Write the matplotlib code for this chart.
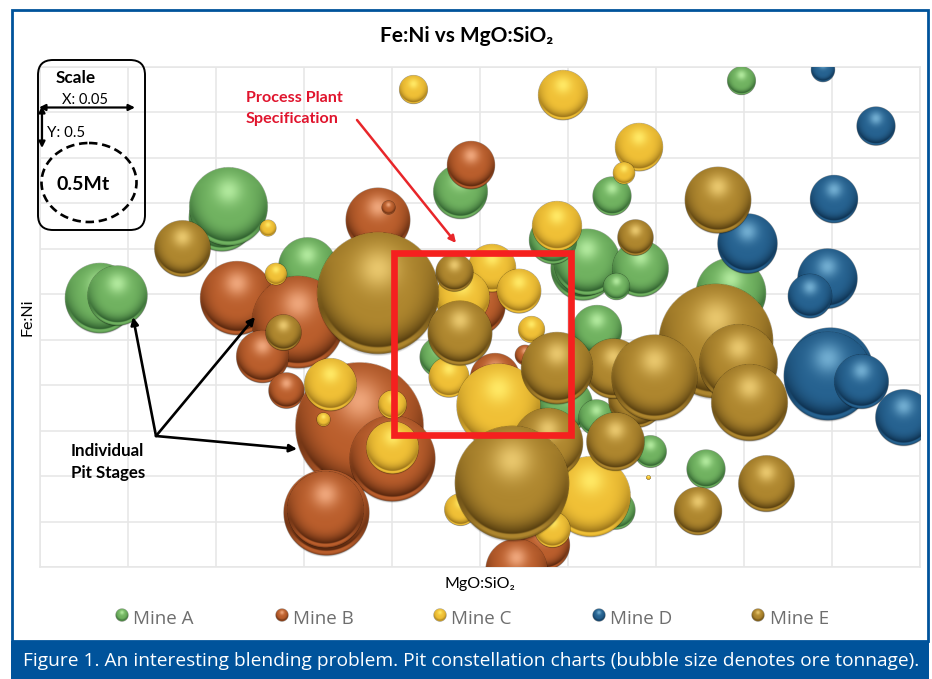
#chart of pit stages, bubble size = ore tonnage
import numpy as np
import matplotlib
matplotlib.use('Agg')
import matplotlib.pyplot as plt
from matplotlib.patches import FancyBboxPatch, Ellipse, Rectangle

#scale of the axes
x_max = 0.5
y_max = 5.5
x_step = 0.05
y_step = 0.5

#mine A
a_x = [.0341, .0437, .1034, .1068, .1517, .2386, .3249, .3983, .3085, .3108, .3408, .3272, .3926, .3164, .2914, .2272, .2983, .3164, .3465, .3784, .3272]
a_y = [2.956, 2.989, 3.835, 3.956, 3.308, 4.132, 4.077, 5.352, 3.286, 3.352, 3.286, 3.077, 3.011, 2.604, 3.593, 2.308, 1.780, 1.648, 1.264, 1.077, 0.626]
a_t = [.331, .243, .294, .411, .227, .197, .098, .053, .277, .294, .212, .046, .331, .169, .156, .108, .197, .088, .069, .098, .098]

#mine B
b_x = [.1119, .1465, .1920, .1982, .2448, .1261, .1403, .1812, .2000, .1625, .1619, .2472, .2585, .2756, .2841, .2869, .2710]
b_y = [2.956, 2.692, 3.813, 3.956, 4.418, 2.308, 1.945, 1.538, 1.198, 0.604, 0.626, 2.879, 2.077, 2.330, 0.220, 0.242, -0.033]
b_t = [.370, .572, .277, .013, .156, .183, .088, 1.108, .500, .500, .390, .243, .169, .027, .169, .169, .260]

#mine C
c_x = [.2119, .2972, .3403, .3318, .1295, .1341, .2938, .2568, .2722, .2790, .2398, .1648, .1608, .2000, .2000, .2324, .2602, .3125, .2909, .2386, .3455]
c_y = [5.253, 5.187, 4.615, 4.330, 3.725, 3.220, 3.747, 3.286, 3.033, 2.604, 2.956, 2.000, 1.626, 1.780, 1.308, 2.088, 1.780, 0.769, 0.407, 0.626, 0.978]
c_t = [.053, .169, .156, .033, .017, .033, .169, .156, .131, .046, .197, .183, .013, .053, .183, .108, .477, .433, .088, .069, .001]

#mine D
d_x = [.4449, .4750, .4511, .4017, .4472, .4375, .4489, .4477, .4665, .4903]
d_y = [5.462, 4.846, 4.044, 3.560, 3.176, 2.978, 2.165, 2.099, 2.033, 1.637]
d_t = [.039, .098, .156, .243, .243, .131, .500, .524, .197, .212]

#mine E
e_x = [.0807, .1920, .1381, .2352, .2386, .3852, .3386, .3841, .3386, .3966, .4028, .3256, .2938, .3489, .3267, .4125, .3739, .2886, .2682]
e_y = [3.505, 3.011, 2.582, 3.242, 2.571, 4.033, 3.626, 2.484, 1.835, 2.231, 1.802, 2.187, 2.187, 2.088, 1.374, 0.912, 0.615, 1.363, 0.923]
e_t = [.212, 1.006, .088, .095, .277, .294, .088, .879, .212, .411, .390, .243, .350, .500, .227, .212, .156, .331, .879]

mine_names = ['Mine A', 'Mine B', 'Mine C', 'Mine D', 'Mine E']
mine_x = [a_x, b_x, c_x, d_x, e_x]
mine_y = [a_y, b_y, c_y, d_y, e_y]
mine_t = [a_t, b_t, c_t, d_t, e_t]

#body, highlight and dark colour of each mine
body_col = [(112, 178, 96), (186, 94, 44), (240, 192, 54), (38, 98, 144), (174, 134, 46)]
high_col = [(176, 232, 156), (238, 165, 122), (255, 232, 100), (112, 172, 208), (232, 198, 108)]
dark_col = [(44, 92, 44), (84, 36, 12), (150, 112, 24), (12, 46, 76), (84, 60, 14)]

#radius in pixels of the 0.5Mt bubble
scale_radius = 43
font = 'Lato'
text_font = 'Open Sans'
blue = '#00539b'


#picture of one shaded ball as an RGBA array
def make_ball(body, high, dark, n=220):
    m = 1.08
    g = np.linspace(-m, m, n)
    u, v = np.meshgrid(g, g)
    r = np.hypot(u, v)
    body = np.array(body) / 255
    high = np.array(high) / 255
    dark = np.array(dark) / 255

    #inner ball sits a little high, leaving a paler rim at the bottom
    ri = np.hypot(u, v + 0.055) / 0.945
    f = 0.15 + 0.85 * np.clip((v + 0.55) / 1.3, 0, 1)
    d = np.clip((ri - 0.45) / 0.55, 0, 1) ** 2.2 * f
    h = np.exp(-(u ** 2 + (v + 0.40) ** 2) / (2 * 0.24 ** 2))
    #rim matches the ball at the sides and gets pale towards the bottom
    pale = np.clip((v - 0.25) / 0.55, 0, 1)
    edge = np.clip((r - 0.95) / 0.05, 0, 1) * f * 0.6
    rim_d = np.maximum(f * (1 - pale), edge)

    rgb = np.zeros((n, n, 3))
    w = np.clip((ri - 1) / 0.03 + 0.5, 0, 1)
    for k in range(3):
        inner = body[k] + (dark[k] - body[k]) * d
        inner = inner + (high[k] - inner) * h
        rim = body[k] + (dark[k] - body[k]) * rim_d
        rgb[:, :, k] = inner * (1 - w) + rim * w

    alpha = np.clip((1 - r) * n / (2 * m) + 0.5, 0, 1)
    #small soft shadow under the ball, it only shows below
    shadow = 0.3 * np.clip((1 - np.hypot(u, v - 0.04)) / 0.04, 0, 1)
    a = alpha + (1 - alpha) * shadow
    out = np.zeros((n, n, 4))
    out[:, :, :3] = rgb * alpha[:, :, None] / np.maximum(a[:, :, None], 1e-6)
    out[:, :, 3] = a
    return out, m


fig = plt.figure(figsize=(9.32, 6.79), dpi=100)
fig.patch.set_facecolor('white')

#plot area
ax = fig.add_axes([40 / 932, (679 - 567) / 679, 880 / 932, 500 / 679])
ax.set_xlim(0, x_max)
ax.set_ylim(0, y_max)
ax.set_xticks(np.arange(0, x_max + 0.001, x_step))
ax.set_yticks(np.arange(0, y_max + 0.001, y_step))
ax.tick_params(length=0, labelbottom=False, labelleft=False)
ax.grid(color='#e6e6e6', linewidth=1.1)
ax.set_axisbelow(True)
for s in ax.spines.values():
    s.set_color('#e6e6e6')
    s.set_linewidth(1.1)
ax.set_xlabel('MgO:SiO\u2082', fontsize=11.5, family=[font, 'DejaVu Sans'], labelpad=7)
ax.set_ylabel('Fe:Ni', fontsize=11.5, family=font, labelpad=4)
ax.set_autoscale_on(False)

#pixels for one unit on each axis
x_px = 880 / x_max
y_px = 500 / y_max

#bubbles, series by series
for i in range(len(mine_names)):
    ball, m = make_ball(body_col[i], high_col[i], dark_col[i])
    for j in range(len(mine_x[i])):
        r = scale_radius * np.sqrt(mine_t[i][j] / 0.5) * m
        x = mine_x[i][j]
        y = mine_y[i][j]
        ax.imshow(ball, extent=[x - r / x_px, x + r / x_px, y - r / y_px, y + r / y_px],
                  aspect='auto', zorder=3 + i)
ax.set_xlim(0, x_max)
ax.set_ylim(0, y_max)

#everything drawn on top of the chart, in pixels of the picture
top = fig.add_axes([0, 0, 1, 1], facecolor='none')
top.set_xlim(0, 932)
top.set_ylim(679, 0)
top.axis('off')
top.set_autoscale_on(False)

#outer frame and caption band
top.add_patch(Rectangle((12, 10), 916, 631, fill=False, edgecolor=blue, linewidth=2))
top.add_patch(Rectangle((11, 641), 918, 38, facecolor=blue, edgecolor='none'))
top.text(23, 661, 'Figure 1. An interesting blending problem. Pit constellation charts (bubble size denotes ore tonnage).',
         color='white', fontsize=13.8, family=text_font, va='center')

top.text(467, 36, 'Fe:Ni vs MgO:SiO\u2082', fontsize=15, fontweight='bold', family=[font, 'DejaVu Sans'], ha='center', va='center')

#scale box
top.add_patch(FancyBboxPatch((38, 60), 107, 170, boxstyle='round,pad=0,rounding_size=15', fill=False,
                             edgecolor='black', linewidth=1.4))
top.add_patch(Ellipse((89, 182.5), 95, 79, fill=False, edgecolor='black', linewidth=1.9, linestyle=(0, (3.2, 1.8))))
top.text(76, 78, 'Scale', fontsize=12.3, fontweight='bold', family=font, ha='center', va='center')
top.text(85, 100, 'X: 0.05', fontsize=10.5, family=font, ha='center', va='center')
top.text(66, 133, 'Y: 0.5', fontsize=10.8, family=font, ha='center', va='center')
top.text(83, 185, '0.5Mt', fontsize=14, fontweight='bold', family=font, ha='center', va='center')
top.annotate('', xy=(135, 107.5), xytext=(39, 107.5), arrowprops=dict(arrowstyle='<|-|>', color='black', lw=1.6, shrinkA=0, shrinkB=0, mutation_scale=9))
top.annotate('', xy=(42, 148), xytext=(42, 106), arrowprops=dict(arrowstyle='<|-|>', color='black', lw=1.6, shrinkA=0, shrinkB=0, mutation_scale=9))

#process plant specification
top.add_patch(Rectangle((394, 253), 176.5, 181.5, fill=False, edgecolor='#f5201f', linewidth=4.8, zorder=5))
top.text(246, 98, 'Process Plant', color='#e0142d', fontsize=11.6, fontweight='bold', family=font, va='center')
top.text(246, 119, 'Specification', color='#e0142d', fontsize=11.6, fontweight='bold', family=font, va='center')
top.annotate('', xy=(456, 243), xytext=(357, 120), arrowprops=dict(arrowstyle='-|>', color='#e8262a', lw=1.8, shrinkA=0, shrinkB=0, mutation_scale=10))

#pit stage notes
top.text(71, 451, 'Individual', fontsize=12.2, fontweight='bold', family=font, va='center')
top.text(71, 473, 'Pit Stages', fontsize=12.2, fontweight='bold', family=font, va='center')
for tip in [(133, 317), (255, 317), (297, 449)]:
    top.annotate('', xy=tip, xytext=(156, 436), arrowprops=dict(arrowstyle='-|>', color='black', lw=1.9, shrinkA=0, shrinkB=0, mutation_scale=11))

#legend
legend_ball_x = [122, 282, 440, 599, 758]
legend_text_x = [133, 293, 451, 610, 770]
for i in range(len(mine_names)):
    ball, m = make_ball(body_col[i], high_col[i], dark_col[i], n=60)
    r = 6.3 * m
    top.imshow(ball, extent=[legend_ball_x[i] - r, legend_ball_x[i] + r, 615.5 + r, 615.5 - r], aspect='auto')
    top.text(legend_text_x[i], 619, mine_names[i], color='#6e6e6e', fontsize=13.5, family=text_font, va='center')
top.set_xlim(0, 932)
top.set_ylim(679, 0)

fig.savefig('out.png', dpi=100)
